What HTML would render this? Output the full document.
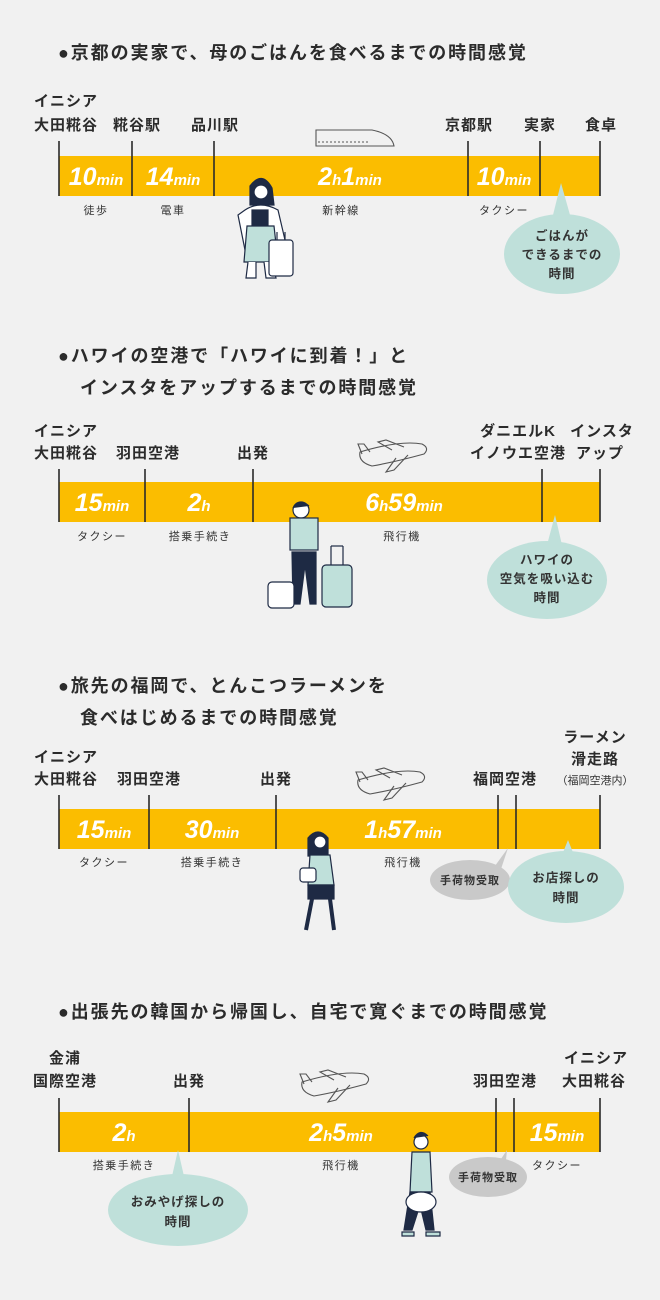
<!DOCTYPE html>
<html><head><meta charset="utf-8"><style>
html,body{margin:0;padding:0;background:#f1f1f1;}
svg{display:block}
.t{font-family:"Liberation Sans","Noto Sans CJK JP",sans-serif;font-weight:bold;fill:#2b2b2b;}
.lb{font-size:15px;text-anchor:middle;letter-spacing:1px}
.ti{font-size:18px;letter-spacing:1.9px}
.sb{font-size:11px;text-anchor:middle;font-weight:normal;fill:#333;letter-spacing:1.5px}
.bb{font-size:12.5px;text-anchor:middle;fill:#333;letter-spacing:1px}
.d{font-family:"Liberation Sans Narrow","Liberation Sans",sans-serif;font-style:italic;font-weight:bold;fill:#fff;text-anchor:middle;font-size:25px}
.d .s{font-size:15px}
.tk{stroke:#2b2b2b;stroke-width:1.6}
.bar{fill:#fbbd00}
.ln{fill:none;stroke:#555;stroke-width:1.1}
</style></head><body>
<svg width="660" height="1300" viewBox="0 0 660 1300" xmlns="http://www.w3.org/2000/svg">
<rect width="660" height="1300" fill="#f1f1f1"/>

<text class="t ti" x="58" y="59">●京都の実家で、母のごはんを食べるまでの時間感覚</text>
<text class="t lb" x="66" y="106">イニシア</text>
<text class="t lb" x="66" y="130">大田糀谷</text>
<text class="t lb" x="137" y="130">糀谷駅</text>
<text class="t lb" x="215" y="130">品川駅</text>
<text class="t lb" x="469" y="130">京都駅</text>
<text class="t lb" x="540" y="130">実家</text>
<text class="t lb" x="601" y="130">食卓</text>
<rect class="bar" x="59" y="156" width="541" height="40"/>
<line class="tk" x1="59" y1="141" x2="59" y2="196"/>
<line class="tk" x1="132" y1="141" x2="132" y2="196"/>
<line class="tk" x1="214" y1="141" x2="214" y2="196"/>
<line class="tk" x1="468" y1="141" x2="468" y2="196"/>
<line class="tk" x1="540" y1="141" x2="540" y2="196"/>
<line class="tk" x1="600" y1="141" x2="600" y2="196"/>
<text class="d" x="96" y="185">10<tspan class="s">min</tspan></text>
<text class="d" x="173" y="185">14<tspan class="s">min</tspan></text>
<text class="d" x="350" y="185">2<tspan class="s">h</tspan>1<tspan class="s">min</tspan></text>
<text class="d" x="504" y="185">10<tspan class="s">min</tspan></text>
<text class="t sb" x="96" y="214">徒歩</text>
<text class="t sb" x="173" y="214">電車</text>
<text class="t sb" x="341" y="214">新幹線</text>
<text class="t sb" x="504" y="214">タクシー</text>
<g class="ln"><path d="M316 130 H372 Q392 134 394 146 H316 Z"/><line x1="318" y1="142" x2="370" y2="142" stroke-dasharray="2 2"/></g>
<path d="M553 215 L561 183 L570 215 Z" fill="#bfe0da"/>
<ellipse cx="562" cy="254" rx="58" ry="40" fill="#bfe0da"/>
<text class="t bb" x="562" y="240">ごはんが</text>
<text class="t bb" x="562" y="259">できるまでの</text>
<text class="t bb" x="562" y="278">時間</text>
<g stroke="#1e2a44" stroke-width="1.2">
<path d="M250 186 Q262 170 272 188 L274 205 L250 205 Z" fill="#1e2a44"/>
<circle cx="261" cy="192" r="7" fill="#fff"/>
<path d="M245 210 Q260 200 278 210 L285 240 L275 250 L245 250 L238 215 Z" fill="#fff"/>
<rect x="252" y="210" width="16" height="20" fill="#1e2a44"/>
<path d="M247 226 L274 226 L278 262 L244 262 Z" fill="#bfe0da"/>
<path d="M248 262 L246 278 L256 278 L256 262 M264 262 L266 278 L276 278 L272 262" fill="#fff"/>
<rect x="269" y="240" width="24" height="36" rx="3" fill="#fff"/>
<line x1="277" y1="232" x2="277" y2="240"/><line x1="285" y1="232" x2="285" y2="240"/>
</g>

<text class="t ti" x="58" y="362">●ハワイの空港で「ハワイに到着！」と</text>
<text class="t ti" x="80" y="394">インスタをアップするまでの時間感覚</text>
<text class="t lb" x="66" y="436">イニシア</text>
<text class="t lb" x="66" y="458">大田糀谷</text>
<text class="t lb" x="148" y="458">羽田空港</text>
<text class="t lb" x="253" y="458">出発</text>
<text class="t lb" x="518" y="436">ダニエルK</text>
<text class="t lb" x="518" y="458">イノウエ空港</text>
<text class="t lb" x="602" y="436">インスタ</text>
<text class="t lb" x="600" y="458">アップ</text>
<rect class="bar" x="59" y="482" width="541" height="40"/>
<line class="tk" x1="59" y1="469" x2="59" y2="522"/>
<line class="tk" x1="145" y1="469" x2="145" y2="522"/>
<line class="tk" x1="253" y1="469" x2="253" y2="522"/>
<line class="tk" x1="542" y1="469" x2="542" y2="522"/>
<line class="tk" x1="600" y1="469" x2="600" y2="522"/>
<text class="d" x="102" y="511">15<tspan class="s">min</tspan></text>
<text class="d" x="199" y="511">2<tspan class="s">h</tspan></text>
<text class="d" x="404" y="511">6<tspan class="s">h</tspan>59<tspan class="s">min</tspan></text>
<text class="t sb" x="102" y="540">タクシー</text>
<text class="t sb" x="200" y="540">搭乗手続き</text>
<text class="t sb" x="402" y="540">飛行機</text>
<g class="ln"><path d="M360 452 Q400 440 422 444 Q430 448 424 454 Q395 462 372 466 Q358 462 360 452 Z"/><path d="M392 450 L378 442 L386 440 L404 447 M396 458 L386 472 L394 470 L408 455 M362 454 L358 444 L364 444 L370 452"/></g>
<path d="M547 545 L555 515 L562 545 Z" fill="#bfe0da"/>
<ellipse cx="547" cy="580" rx="60" ry="39" fill="#bfe0da"/>
<text class="t bb" x="547" y="564">ハワイの</text>
<text class="t bb" x="547" y="583">空気を吸い込む</text>
<text class="t bb" x="547" y="602">時間</text>
<g stroke="#1e2a44" stroke-width="1.2">
<circle cx="301" cy="510" r="8" fill="#fff"/><path d="M293 508 Q300 498 309 506" fill="#1e2a44"/>
<rect x="290" y="518" width="28" height="32" fill="#bfe0da"/>
<path d="M292 552 L316 552 L316 604 L310 604 L305 565 L300 604 L293 604 Z" fill="#1e2a44"/>
<rect x="268" y="582" width="26" height="26" rx="4" fill="#fff"/>
<rect x="322" y="565" width="30" height="42" rx="4" fill="#bfe0da"/>
<line x1="331" y1="546" x2="331" y2="565"/><line x1="343" y1="546" x2="343" y2="565"/><line x1="331" y1="546" x2="343" y2="546"/>
</g>

<text class="t ti" x="58" y="692">●旅先の福岡で、とんこつラーメンを</text>
<text class="t ti" x="80" y="724">食べはじめるまでの時間感覚</text>
<text class="t lb" x="66" y="762">イニシア</text>
<text class="t lb" x="66" y="784">大田糀谷</text>
<text class="t lb" x="149" y="784">羽田空港</text>
<text class="t lb" x="276" y="784">出発</text>
<text class="t lb" x="505" y="784">福岡空港</text>
<text class="t lb" x="595" y="742">ラーメン</text>
<text class="t lb" x="595" y="764">滑走路</text>
<text class="t sb" x="595" y="784" style="letter-spacing:0">（福岡空港内）</text>
<rect class="bar" x="59" y="809" width="541" height="40"/>
<line class="tk" x1="59" y1="795" x2="59" y2="849"/>
<line class="tk" x1="149" y1="795" x2="149" y2="849"/>
<line class="tk" x1="276" y1="795" x2="276" y2="849"/>
<line class="tk" x1="498" y1="795" x2="498" y2="849"/>
<line class="tk" x1="516" y1="795" x2="516" y2="849"/>
<line class="tk" x1="600" y1="795" x2="600" y2="849"/>
<text class="d" x="104" y="838">15<tspan class="s">min</tspan></text>
<text class="d" x="212" y="838">30<tspan class="s">min</tspan></text>
<text class="d" x="403" y="838">1<tspan class="s">h</tspan>57<tspan class="s">min</tspan></text>
<text class="t sb" x="104" y="866">タクシー</text>
<text class="t sb" x="212" y="866">搭乗手続き</text>
<text class="t sb" x="403" y="866">飛行機</text>
<g class="ln"><path d="M358 780 Q398 768 420 772 Q428 776 422 782 Q393 790 370 794 Q356 790 358 780 Z"/><path d="M390 778 L376 770 L384 768 L402 775 M394 786 L384 800 L392 798 L406 783 M360 782 L356 772 L362 772 L368 780"/></g>
<path d="M492 870 L508 848 L500 872 Z" fill="#c9c9c9"/>
<ellipse cx="470" cy="880" rx="40" ry="20" fill="#c9c9c9"/>
<text class="t bb" x="470" y="884" style="font-size:11px">手荷物受取</text>
<path d="M560 860 L568 840 L576 860 Z" fill="#bfe0da"/>
<ellipse cx="566" cy="887" rx="58" ry="36" fill="#bfe0da"/>
<text class="t bb" x="566" y="882">お店探しの</text>
<text class="t bb" x="566" y="902">時間</text>
<g stroke="#1e2a44" stroke-width="1.2">
<path d="M308 838 Q318 826 328 838 L328 856 L308 856 Z" fill="#1e2a44"/>
<circle cx="320" cy="842" r="6" fill="#fff"/>
<path d="M310 855 L330 855 L334 885 L308 885 Z" fill="#bfe0da"/>
<rect x="308" y="885" width="26" height="14" fill="#1e2a44"/>
<path d="M312 899 L306 930 M330 899 L334 930" stroke-width="4"/>
<rect x="300" y="868" width="16" height="14" rx="3" fill="#fff"/>
</g>

<text class="t ti" x="58" y="1018">●出張先の韓国から帰国し、自宅で寛ぐまでの時間感覚</text>
<text class="t lb" x="65" y="1063">金浦</text>
<text class="t lb" x="65" y="1086">国際空港</text>
<text class="t lb" x="189" y="1086">出発</text>
<text class="t lb" x="505" y="1086">羽田空港</text>
<text class="t lb" x="596" y="1063">イニシア</text>
<text class="t lb" x="594" y="1086">大田糀谷</text>
<rect class="bar" x="59" y="1112" width="541" height="40"/>
<line class="tk" x1="59" y1="1098" x2="59" y2="1152"/>
<line class="tk" x1="189" y1="1098" x2="189" y2="1152"/>
<line class="tk" x1="496" y1="1098" x2="496" y2="1152"/>
<line class="tk" x1="514" y1="1098" x2="514" y2="1152"/>
<line class="tk" x1="600" y1="1098" x2="600" y2="1152"/>
<text class="d" x="124" y="1141">2<tspan class="s">h</tspan></text>
<text class="d" x="341" y="1141">2<tspan class="s">h</tspan>5<tspan class="s">min</tspan></text>
<text class="d" x="557" y="1141">15<tspan class="s">min</tspan></text>
<text class="t sb" x="124" y="1169">搭乗手続き</text>
<text class="t sb" x="341" y="1169">飛行機</text>
<text class="t sb" x="557" y="1169">タクシー</text>
<g class="ln"><path d="M302 1082 Q342 1070 364 1074 Q372 1078 366 1084 Q337 1092 314 1096 Q300 1092 302 1082 Z"/><path d="M334 1080 L320 1072 L328 1070 L346 1077 M338 1088 L328 1102 L336 1100 L350 1085 M304 1084 L300 1074 L306 1074 L312 1082"/></g>
<path d="M170 1185 L178 1150 L186 1185 Z" fill="#bfe0da"/>
<ellipse cx="178" cy="1210" rx="70" ry="36" fill="#bfe0da"/>
<text class="t bb" x="178" y="1206">おみやげ探しの</text>
<text class="t bb" x="178" y="1226">時間</text>
<path d="M497 1165 L507 1150 L505 1170 Z" fill="#c9c9c9"/>
<ellipse cx="488" cy="1177" rx="39" ry="20" fill="#c9c9c9"/>
<text class="t bb" x="488" y="1181" style="font-size:11px">手荷物受取</text>
<g stroke="#1e2a44" stroke-width="1.2">
<circle cx="421" cy="1142" r="7" fill="#fff"/><path d="M414 1138 Q420 1128 428 1136" fill="#1e2a44"/>
<path d="M412 1152 L430 1152 L432 1192 L410 1192 Z" fill="#bfe0da"/>
<path d="M410 1192 L430 1192 L434 1230 L426 1230 L420 1205 L412 1230 L404 1230 Z" fill="#1e2a44"/>
<ellipse cx="421" cy="1202" rx="15" ry="10" fill="#fff"/>
<path d="M402 1232 L414 1232 L414 1236 L402 1236 Z M426 1232 L440 1232 L440 1236 L426 1236 Z" fill="#bfe0da"/>
</g>
</svg>
</body></html>
